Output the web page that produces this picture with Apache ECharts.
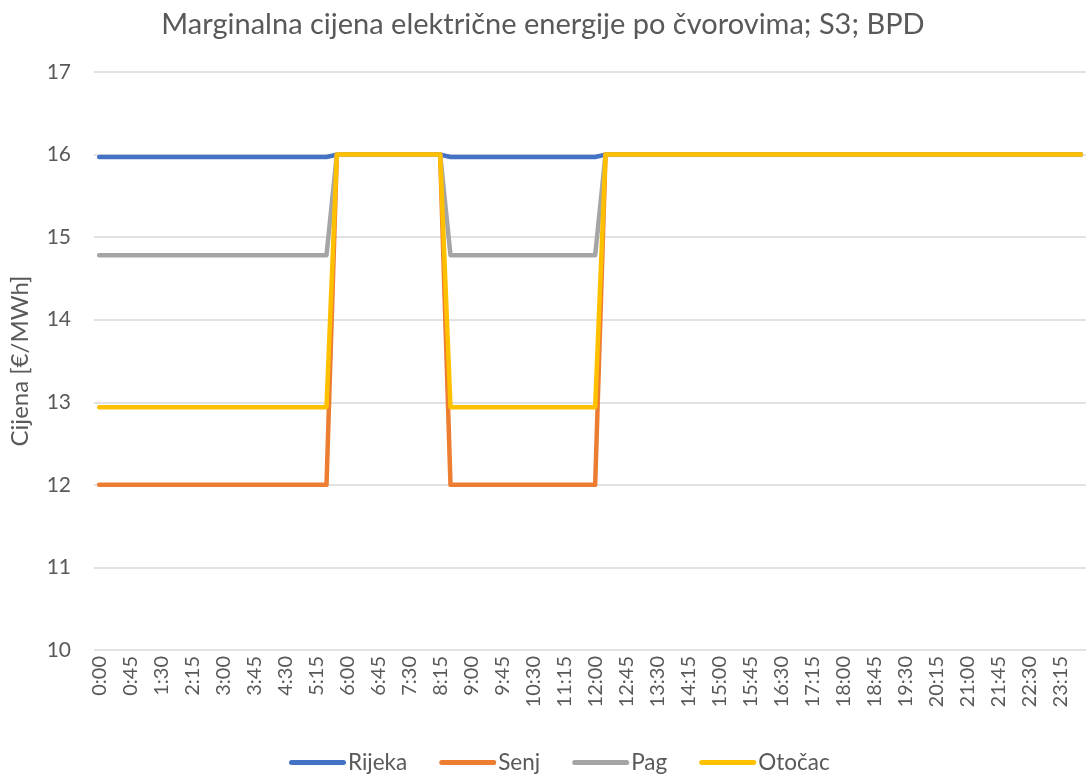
<!DOCTYPE html>
<html>
<head>
<meta charset="utf-8">
<script src="https://cdn.jsdelivr.net/npm/echarts@6/dist/echarts.min.js"></script>
<style>
html,body{margin:0;padding:0;background:#fff;}
#chart{width:1086px;height:776px;}
</style>
</head>
<body>
<div id="chart"></div>
<script>
const titleText = 'Marginalna cijena električne energije po čvorovima; S3; BPD';
const yAxisName = 'Cijena [€/MWh]';
const seriesNames = ['Rijeka', 'Senj', 'Pag', 'Otočac'];
const seriesColors = ['#4472C4', '#ED7D31', '#A5A5A5', '#FFC000'];

const times = [
'0:00','0:15','0:30','0:45','1:00','1:15','1:30','1:45','2:00','2:15','2:30','2:45',
'3:00','3:15','3:30','3:45','4:00','4:15','4:30','4:45','5:00','5:15','5:30','5:45',
'6:00','6:15','6:30','6:45','7:00','7:15','7:30','7:45','8:00','8:15','8:30','8:45',
'9:00','9:15','9:30','9:45','10:00','10:15','10:30','10:45','11:00','11:15','11:30','11:45',
'12:00','12:15','12:30','12:45','13:00','13:15','13:30','13:45','14:00','14:15','14:30','14:45',
'15:00','15:15','15:30','15:45','16:00','16:15','16:30','16:45','17:00','17:15','17:30','17:45',
'18:00','18:15','18:30','18:45','19:00','19:15','19:30','19:45','20:00','20:15','20:30','20:45',
'21:00','21:15','21:30','21:45','22:00','22:15','22:30','22:45','23:00','23:15','23:30','23:45'
];

const rijeka = [
15.97,15.97,15.97,15.97,15.97,15.97,15.97,15.97,15.97,15.97,
15.97,15.97,15.97,15.97,15.97,15.97,15.97,15.97,15.97,15.97,
15.97,15.97,15.97,
16,16,16,16,16,16,16,16,16,16,16,
15.97,15.97,15.97,15.97,15.97,15.97,15.97,15.97,15.97,15.97,
15.97,15.97,15.97,15.97,15.97,
16,16,16,16,16,16,16,16,16,16,
16,16,16,16,16,16,16,16,16,16,
16,16,16,16,16,16,16,16,16,16,
16,16,16,16,16,16,16,16,16,16,
16,16,16,16,16,16,16
];

const senj = [
12,12,12,12,12,12,12,12,12,12,
12,12,12,12,12,12,12,12,12,12,
12,12,12,
16,16,16,16,16,16,16,16,16,16,16,
12,12,12,12,12,12,12,12,12,12,
12,12,12,12,12,
16,16,16,16,16,16,16,16,16,16,
16,16,16,16,16,16,16,16,16,16,
16,16,16,16,16,16,16,16,16,16,
16,16,16,16,16,16,16,16,16,16,
16,16,16,16,16,16,16
];

const pag = [
14.78,14.78,14.78,14.78,14.78,14.78,14.78,14.78,14.78,14.78,
14.78,14.78,14.78,14.78,14.78,14.78,14.78,14.78,14.78,14.78,
14.78,14.78,14.78,
16,16,16,16,16,16,16,16,16,16,16,
14.78,14.78,14.78,14.78,14.78,14.78,14.78,14.78,14.78,14.78,
14.78,14.78,14.78,14.78,14.78,
16,16,16,16,16,16,16,16,16,16,
16,16,16,16,16,16,16,16,16,16,
16,16,16,16,16,16,16,16,16,16,
16,16,16,16,16,16,16,16,16,16,
16,16,16,16,16,16,16
];

const otocac = [
12.94,12.94,12.94,12.94,12.94,12.94,12.94,12.94,12.94,12.94,
12.94,12.94,12.94,12.94,12.94,12.94,12.94,12.94,12.94,12.94,
12.94,12.94,12.94,
16,16,16,16,16,16,16,16,16,16,16,
12.94,12.94,12.94,12.94,12.94,12.94,12.94,12.94,12.94,12.94,
12.94,12.94,12.94,12.94,12.94,
16,16,16,16,16,16,16,16,16,16,
16,16,16,16,16,16,16,16,16,16,
16,16,16,16,16,16,16,16,16,16,
16,16,16,16,16,16,16,16,16,16,
16,16,16,16,16,16,16
];

const seriesData = [rijeka, senj, pag, otocac];

const chart = echarts.init(document.getElementById('chart'), null, {renderer: 'canvas'});
const font = 'Lato, "Open Sans", "DejaVu Sans", sans-serif';
const capsule = 'path://M2.5,0 L54.5,0 A2.5,2.5 0 0 1 54.5,5 L2.5,5 A2.5,2.5 0 0 1 2.5,0 Z';

chart.setOption({
  animation: false,
  backgroundColor: '#ffffff',
  title: {
    text: titleText,
    left: 'center',
    top: 5,
    textStyle: {fontFamily: font, fontSize: 29, fontWeight: 'normal', color: '#595959'}
  },
  legend: {
    top: 746,
    left: 284,
    icon: capsule,
    itemWidth: 57,
    itemHeight: 5,
    itemGap: 32,
    textStyle: {fontFamily: font, fontSize: 22.5, color: '#595959', padding: [0, 0, 0, -3]},
    data: seriesNames
  },
  grid: {left: 93, right: -9, top: 72, bottom: 126, containLabel: false},
  xAxis: {
    type: 'category',
    data: times,
    boundaryGap: true,
    axisLine: {show: false},
    axisTick: {show: false},
    splitLine: {show: false},
    axisLabel: {
      interval: 2,
      rotate: 90,
      margin: 6,
      fontFamily: font,
      fontSize: 20,
      color: '#595959'
    }
  },
  yAxis: {
    type: 'value',
    min: 10,
    max: 17,
    interval: 1,
    name: yAxisName,
    nameLocation: 'middle',
    nameGap: 62,
    nameRotate: 90,
    nameTextStyle: {fontFamily: font, fontSize: 24, color: '#595959'},
    axisLine: {show: false},
    axisTick: {show: false},
    axisLabel: {fontFamily: font, fontSize: 21, color: '#595959', margin: 23},
    splitLine: {show: true, lineStyle: {color: '#D9D9D9', width: 1.5}}
  },
  series: seriesNames.map((name, i) => ({
    name: name,
    type: 'line',
    data: seriesData[i],
    symbol: 'none',
    showSymbol: false,
    color: seriesColors[i],
    lineStyle: {width: 4.5, color: seriesColors[i], cap: 'round', join: 'round'},
    z: 2 + i
  }))
});
</script>
</body>
</html>
